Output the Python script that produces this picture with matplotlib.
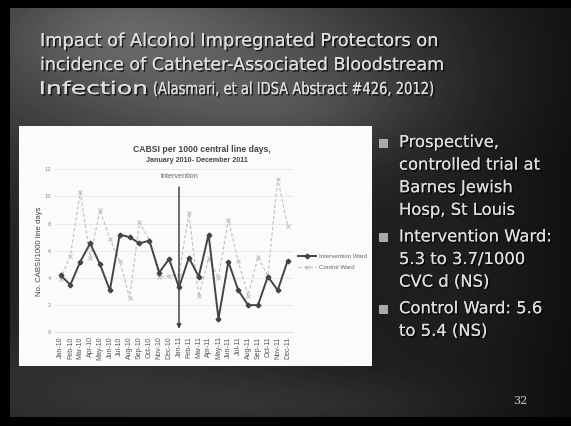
import numpy as np
import matplotlib
matplotlib.use('Agg')
import matplotlib.pyplot as plt
from matplotlib.patches import Rectangle, PathPatch
from matplotlib.textpath import TextPath
from matplotlib.font_manager import FontProperties
from matplotlib.transforms import Affine2D
import matplotlib.patheffects as pe

W, H = 571, 426

months = ['Jan-10', 'Feb-10', 'Mar-10', 'Apr-10', 'May-10', 'Jun-10',
          'Jul-10', 'Aug-10', 'Sep-10', 'Oct-10', 'Nov-10', 'Dec-10',
          'Jan-11', 'Feb-11', 'Mar-11', 'Apr-11', 'May-11', 'Jun-11',
          'Jul-11', 'Aug-11', 'Sep-11', 'Oct-11', 'Nov-11', 'Dec-11']
intervention_ward = [4.2, 3.5, 5.2, 6.55, 5.0, 3.1, 7.2, 7.0, 6.55, 6.75, 4.4, 5.4,
                     3.3, 5.5, 4.1, 7.2, 1.0, 5.2, 3.1, 2.0, 2.0, 4.1, 3.1, 5.25]
control_ward = [3.9, 5.65, 10.3, 5.5, 9.0, 6.9, 5.25, 2.55, 8.1, 6.8, 4.05, 4.15,
                4.2, 8.8, 2.65, 5.45, 4.0, 8.3, 5.25, 2.7, 5.55, 4.15, 11.3, 7.85]
intervention_month = 'Jan-11'

bullets = [
    ['Prospective,', 'controlled trial at', 'Barnes Jewish', 'Hosp, St Louis'],
    ['Intervention Ward:', '5.3 to 3.7/1000', 'CVC d (NS)'],
    ['Control Ward: 5.6', 'to 5.4 (NS)'],
]

NARROW = ['Liberation Sans Narrow', 'Liberation Sans', 'DejaVu Sans']
LIGHT = '#dedede'


def fx(x):
    return x / W


def fy(y):
    return 1 - y / H


fig = plt.figure(figsize=(W / 100, H / 100), dpi=100)
fig.patch.set_facecolor('black')
renderer = fig.canvas.get_renderer()

shadow = [pe.withSimplePatchShadow(offset=(1.2, -1.2), shadow_rgbFace='black', alpha=0.7),
          pe.Normal()]


def fit_text(x0, x1, y, s, ha='left', **kw):
    # size the text so that it spans x0..x1 pixels
    t = fig.text(fx(x0 if ha == 'left' else (x0 + x1) / 2), fy(y), s, ha=ha,
                 va='baseline', fontsize=10, **kw)
    w = t.get_window_extent(renderer).width
    t.set_fontsize(10 * (x1 - x0) / w)
    return t


def path_text(x0, x1, y, s, size_px, family='DejaVu Sans'):
    # glyph outlines squeezed or stretched horizontally to fill x0..x1 pixels
    tp = TextPath((0, 0), s, size=size_px, prop=FontProperties(family=family))
    ext = tp.get_extents()
    sx = (x1 - x0) / ext.width
    tr = Affine2D().translate(-ext.x0, 0).scale(sx / W, 1 / H).translate(fx(x0), fy(y))
    patch = PathPatch(tp, transform=tr + fig.transFigure, facecolor=LIGHT,
                      edgecolor='none', path_effects=shadow, zorder=3)
    fig.patches.append(patch)


# dark cloudy slide background built from a few soft blobs
bg = fig.add_axes([0, 0, 1, 1])
bg.set_axis_off()
yy, xx = np.mgrid[0:H, 0:W]
blobs = [(200, 60, 260, 110, 58), (110, 25, 110, 50, 22), (300, 110, 120, 40, 15),
         (120, 390, 200, 60, 18), (470, 280, 110, 120, 10), (330, 405, 150, 30, 14)]
img = np.full((H, W), 34.0)
for cx, cy, sx, sy, amp in blobs:
    img += amp * np.exp(-(((xx - cx) / sx) ** 2 + ((yy - cy) / sy) ** 2))
img -= 22 * (xx / W) ** 2
img = np.clip(img, 0, 255)
img[:8, :] = 0
img[:, :10] = 0
img[417:, :] = 0
bg.imshow(img, cmap='gray', vmin=0, vmax=255, extent=[0, W, H, 0], aspect='auto')
bg.set_xlim(0, W)
bg.set_ylim(H, 0)

# white panel holding the chart
fig.patches.append(Rectangle((fx(19), fy(366)), fx(372) - fx(19), (366 - 126) / H,
                             transform=fig.transFigure, facecolor='#fbfbfb',
                             edgecolor='none', zorder=1))

# slide heading
head_kw = dict(color=LIGHT, family='DejaVu Sans', path_effects=shadow)
fig.text(fx(40), fy(46), 'Impact of Alcohol Impregnated Protectors on', fontsize=12.8,
         va='baseline', ha='left', **head_kw)
fig.text(fx(40), fy(70), 'incidence of Catheter-Associated Bloodstream', fontsize=12.6,
         va='baseline', ha='left', **head_kw)
path_text(41, 146, 94, 'Infection', 17.5)
path_text(154, 433, 94, '(Alasmari, et al IDSA Abstract #426, 2012)', 16.5)

# bullet list on the right
y = 147
for group in bullets:
    fig.patches.append(Rectangle((fx(379), fy(y)), 8 / W, 8 / H, transform=fig.transFigure,
                                 facecolor='#a8a8a8', edgecolor='#cfcfcf', lw=0.5, zorder=3))
    for line in group:
        fig.text(fx(399), fy(y), line, fontsize=11.8, va='baseline', ha='left', **head_kw)
        y += 22.6
    y += 4

fig.text(fx(520), fy(404), '32', color='#cfcfcf', fontsize=8, family='DejaVu Serif',
         ha='center', va='baseline')

# the chart itself
ax = fig.add_axes([fx(55), fy(332.3), (293 - 55) / W, (332.3 - 169.3) / H], zorder=2)
ax.set_facecolor('none')
x = np.arange(len(months))
ax.plot(x, control_ward, color='#bdbdbd', lw=0.8, ls=(0, (3, 2)), marker='x', ms=2.5,
        mew=0.7, label='Control Ward', zorder=2)
ax.plot(x, intervention_ward, color='#444444', lw=1.4, marker='D', ms=2.4,
        label='Intervention Ward', zorder=3)

xi = months.index(intervention_month)
ax.annotate('', xy=(xi, 0.05), xytext=(xi, 10.9),
            arrowprops=dict(arrowstyle='-|>', color='#444444', lw=1.1, mutation_scale=6))
ax.text(xi, 11.2, 'Intervention', ha='center', va='bottom', fontsize=5.2, color='#666666',
        family=NARROW)

ax.set_xlim(-0.56, 23.55)
ax.set_ylim(0, 12)
ax.set_yticks(range(0, 13, 2))
ax.set_xticks(x)
ax.set_xticklabels(months, rotation=90, fontsize=5, color='#555555', family=NARROW)
ax.tick_params(axis='y', labelsize=3.8, colors='#888888', length=0, pad=3)
ax.tick_params(axis='x', length=0, pad=3)
ax.grid(axis='y', color='#e6e6e6', lw=0.6)
ax.set_axisbelow(True)
for s in ['top', 'right', 'left']:
    ax.spines[s].set_visible(False)
ax.spines['bottom'].set_color('#d8d8d8')
ax.spines['bottom'].set_linewidth(0.6)
ax.set_ylabel('No. CABSI/1000 line days', fontsize=5.6, color='#444444', labelpad=1,
              family=NARROW)

ax.legend(loc='center left', bbox_to_anchor=(1.01, 0.43), frameon=False,
          prop={'family': NARROW, 'size': 4.4},
          labelcolor='#666666', handlelength=3, handletextpad=0.4, borderaxespad=0,
          labelspacing=0.9, handles=ax.get_lines()[::-1][:2])

fit_text(133, 270, 152, 'CABSI per 1000 central line days,', ha='center',
         fontweight='bold', color='#444444', family=NARROW, zorder=4)
fit_text(146, 248, 162, 'January 2010- December 2011', ha='center',
         fontweight='bold', color='#444444', family=NARROW, zorder=4)

fig.savefig('out.png', dpi=100, facecolor='black')
